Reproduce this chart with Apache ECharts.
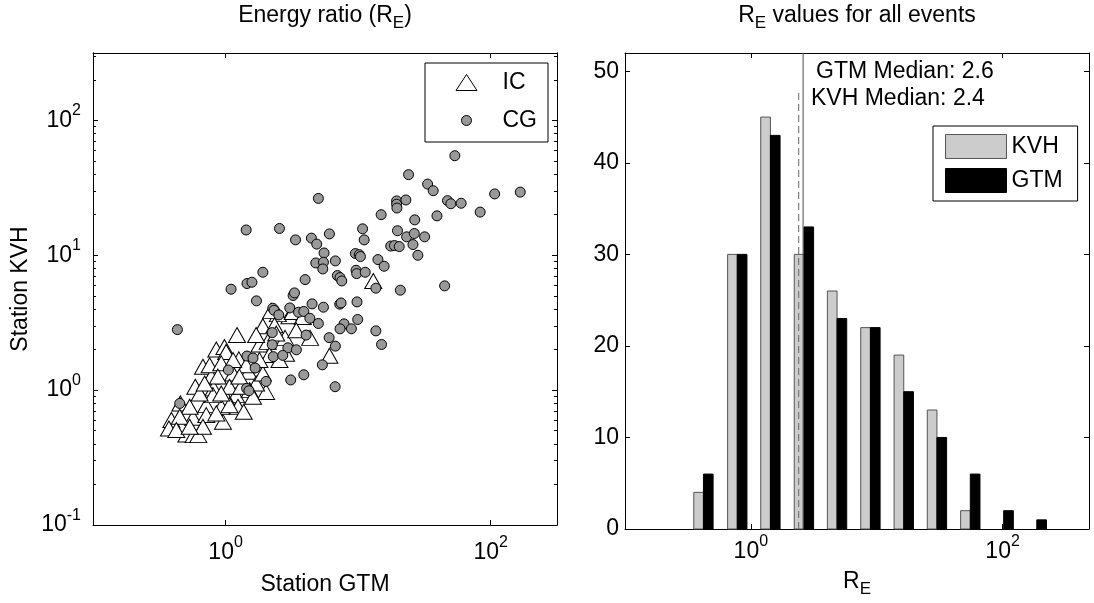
<!DOCTYPE html>
<html><head><meta charset="utf-8">
<script src="https://cdn.jsdelivr.net/npm/echarts@6/dist/echarts.min.js"></script>
<style>html,body{margin:0;padding:0;background:#fff}#c{width:1094px;height:603px}</style>
</head><body><div id="c"></div>
<script>
// ---- Data ----
// IC events: energy ratio at station GTM (x) and KVH (y)
const icGTM = [13.0,3.03,2.48,2.21,1.91,4.34,2.81,1.80,2.08,6.07,2.86,2.14,1.22,0.851,0.98,1.26,0.675,0.780,1.49,2.02,
  0.591,0.812,1.20,1.02,0.715,0.456,0.390,0.374,0.568,0.506,0.574,0.623,0.955,0.927,1.24,1.37,0.715,1.01,1.14,1.70,
  1.91,1.52,0.803,1.07,1.31,0.536,0.451,0.637,0.758,0.927,1.43,1.80,1.70,2.34,3.21,3.82,3.41,2.41,0.875,0.675,
  0.851,1.07,0.425,1.27,2.55,1.61,0.536,1.14,0.927,0.695];
const icKVH = [6.45,3.53,3.66,3.87,2.98,2.44,2.44,2.18,2.28,1.80,1.86,1.82,2.56,2.00,2.09,1.69,1.49,1.26,1.37,0.97,
  1.06,1.03,0.918,0.867,0.774,0.797,0.600,0.520,0.624,0.469,0.464,0.464,0.582,0.753,0.753,0.691,0.653,1.92,1.33,1.12,
  1.33,1.00,0.918,1.06,1.06,0.753,0.634,0.945,1.53,1.58,1.53,1.67,2.56,3.03,3.80,3.49,2.78,2.63,1.26,0.535,
  0.672,0.774,0.506,1.26,1.67,0.893,0.535,1.67,0.945,1.12];
// CG events
const cgGTM = [53.6,24.0,33.4,36.8,47.2,50.0,59.8,107,167,83.2,39.3,19.5,19.5,19.6,22.9,14.9,26.7,5.01,1.43,2.55,
  3.37,4.44,4.87,6.07,5.53,10.8,11.1,19.8,23.2,26.5,31.7,17.6,18.8,20.4,25.9,28.2,9.53,10.2,10.4,4.79,
  5.47,5.41,6.73,14.1,15.7,9.64,9.75,11.3,6.97,7.30,7.52,3.98,1.91,1.45,1.58,1.10,3.23,3.31,1.71,2.27,
  2.32,2.52,3.05,3.55,3.89,4.49,5.47,7.26,7.43,9.80,4.32,5.01,9.92,7.83,7.30,8.89,13.6,15.0,20.8,44.9,
  13.6,0.433,2.25,4.05,6.04,6.73,2.25,2.95,3.42,1.45,1.61,2.29,2.70,1.67,1.05,3.89,3.10,6.70,5.37,1.44,
  1.50,2.02,0.451];
const cgKVH = [54.7,39.6,33.7,30.1,25.4,24.1,24.3,28.5,29.4,20.9,19.6,25.3,23.9,22.4,25.7,20.0,18.3,26.4,15.4,15.8,
  13.0,13.4,12.1,14.4,10.4,15.7,13.0,15.2,13.7,14.5,13.7,11.7,11.8,11.6,12.0,10.0,10.3,10.1,9.78,8.77,
  8.88,7.92,9.08,9.29,8.29,7.74,7.31,7.48,7.07,6.83,6.45,6.60,7.48,6.17,6.31,5.60,5.03,5.26,4.59,4.05,
  3.91,3.61,4.07,3.78,3.83,4.36,4.12,4.34,4.43,4.51,3.41,3.12,3.34,3.10,2.85,2.85,2.75,2.18,5.51,5.93,
  5.70,2.81,2.67,2.56,2.45,2.12,2.17,2.06,1.99,1.79,1.73,1.77,1.81,1.46,1.41,1.30,1.19,1.06,1.54,1.03,
  0.99,1.16,0.797];
// Histogram of R_E values (log-spaced bins)
const binCenters = [0.42,0.78,1.43,2.64,4.84,8.91,16.4,30.1,55.4,102,187];
const countKVH = [4,30,45,30,26,22,19,13,2,0,0];
const countGTM = [6,30,43,33,23,22,15,10,6,2,1];
const medianGTM = 2.6;
const medianKVH = 2.4;
const medianKVHLineTop = 48;
// Axis ranges and tick labels
const leftXRange = [0.1, 316];
const leftYRange = [0.1, 316];
const rightXRange = [0.1, 486];
const rightYRange = [0, 52];
const leftXTicks = [1, 100];
const leftYTicks = [0.1, 1, 10, 100];
const rightXTicks = [1, 100];
const rightYTicks = [0, 10, 20, 30, 40, 50];

// ---- Chart ----
const L = Math.log10;
const FONT = '"Liberation Sans", Arial, Helvetica, sans-serif';
const FS = 23;
const supRich = {
  b: {fontSize: FS, lineHeight: FS, verticalAlign: 'bottom', fontFamily: FONT, color: '#000'},
  sup: {fontSize: 16, lineHeight: 16, padding: [0, 0, 13, 0], verticalAlign: 'bottom', fontFamily: FONT, color: '#000'}
};
const subRich = {
  b: {fontSize: FS, lineHeight: FS, verticalAlign: 'top', fontFamily: FONT, color: '#000'},
  sub: {fontSize: 17, lineHeight: 17, padding: [11, 0, 0, 0], verticalAlign: 'top', fontFamily: FONT, color: '#000'}
};
const powLabel = v => '{b|10}{sup|' + Math.round(v) + '}';

function minorTicks(range) {
  const out = [];
  for (let e = -2; e <= 3; e++) for (let k = 2; k <= 9; k++) {
    const v = k * Math.pow(10, e);
    if (v > range[0] && v < range[1]) out.push(L(v));
  }
  return out;
}
const black = {color: '#000', width: 1};
function axis(opt) {
  return Object.assign({
    type: 'value', axisLine: {show: true, onZero: false, lineStyle: black},
    splitLine: {show: false}, axisLabel: {show: false}, axisTick: {show: true, inside: true, length: 5, lineStyle: black}
  }, opt);
}

const scatterXY = (xs, ys) => xs.map((x, i) => [L(x), L(ys[i])]);
const logSpacing = (L(binCenters[binCenters.length - 1]) - L(binCenters[0])) / (binCenters.length - 1);
const barW = logSpacing * 0.29;

function barSeries(name, counts, side, fill, stroke) {
  return {
    type: 'custom', name: name, xAxisIndex: 2, yAxisIndex: 4, coordinateSystem: 'cartesian2d',
    itemStyle: {color: fill, borderColor: stroke, borderWidth: 1},
    data: binCenters.map((c, i) => [L(c), counts[i]]),
    renderItem: function (params, api) {
      const xc = api.value(0), v = api.value(1);
      if (!v) return null;
      const x0 = side < 0 ? xc - barW : xc, x1 = side < 0 ? xc : xc + barW;
      const p0 = api.coord([x0, v]), p1 = api.coord([x1, 0]);
      return {type: 'rect', shape: {x: p0[0], y: p0[1], width: p1[0] - p0[0], height: p1[1] - p0[1]},
        style: {fill: fill, stroke: stroke, lineWidth: 1}};
    }
  };
}

const titleText = (text, left, top, align, rich) => ({
  text: text, left: left, top: top, textAlign: align, padding: 0,
  textStyle: {fontSize: FS, fontWeight: 'normal', fontFamily: FONT, color: '#000', rich: rich || {}}
});

const option = {
  animation: false,
  backgroundColor: '#fff',
  textStyle: {fontFamily: FONT},
  title: [
    titleText('{b|Energy ratio (R}{sub|E}{b|)}', 325, 4, 'center', subRich),
    titleText('{b|R}{sub|E}{b| values for all events}', 857, 4, 'center', subRich),
    titleText('GTM Median: 2.6', 816, 60.5, 'left'),
    titleText('KVH Median: 2.4', 811, 87.5, 'left')
  ],
  grid: [
    {left: 93, top: 53, width: 464, height: 472},
    {left: 625, top: 53, width: 464, height: 478}
  ],
  xAxis: [
    axis({gridIndex: 0, position: 'bottom', min: L(leftXRange[0]), max: L(leftXRange[1]),
      axisTick: {show: true, inside: true, length: 5, lineStyle: black, customValues: leftXTicks.map(L)},
      axisLabel: {show: true, customValues: leftXTicks.map(L), formatter: powLabel, rich: supRich, margin: 16},
      name: 'Station GTM', nameLocation: 'middle', nameGap: 48,
      nameTextStyle: {fontSize: FS, fontFamily: FONT, color: '#000'}}),
    axis({gridIndex: 0, position: 'top', min: L(leftXRange[0]), max: L(leftXRange[1]),
      axisTick: {show: true, inside: true, length: 5, lineStyle: black, customValues: leftXTicks.map(L)}}),
    axis({gridIndex: 1, position: 'bottom', min: L(rightXRange[0]), max: L(rightXRange[1]),
      axisTick: {show: true, inside: true, length: 5, lineStyle: black, customValues: rightXTicks.map(L)},
      axisLabel: {show: true, customValues: rightXTicks.map(L), formatter: powLabel, rich: supRich, margin: 11},
      name: '{b|R}{sub|E}', nameLocation: 'middle', nameGap: 41,
      nameTextStyle: {fontSize: FS, fontFamily: FONT, color: '#000', rich: subRich}}),
    axis({gridIndex: 1, position: 'top', min: L(rightXRange[0]), max: L(rightXRange[1]),
      axisTick: {show: true, inside: true, length: 5, lineStyle: black, customValues: rightXTicks.map(L)}})
  ],
  yAxis: [
    axis({gridIndex: 0, position: 'left', min: L(leftYRange[0]), max: L(leftYRange[1]),
      axisTick: {show: true, inside: true, length: 5, lineStyle: black, customValues: leftYTicks.map(L)},
      axisLabel: {show: true, customValues: leftYTicks.map(L), formatter: powLabel, rich: supRich, margin: 12},
      name: 'Station KVH', nameLocation: 'middle', nameGap: 61,
      nameTextStyle: {fontSize: FS, fontFamily: FONT, color: '#000'}}),
    axis({gridIndex: 0, position: 'right', min: L(leftYRange[0]), max: L(leftYRange[1]),
      axisTick: {show: true, inside: true, length: 5, lineStyle: black, customValues: leftYTicks.map(L)}}),
    axis({gridIndex: 0, position: 'left', min: L(leftYRange[0]), max: L(leftYRange[1]),
      axisTick: {show: true, inside: true, length: 3, lineStyle: black, customValues: minorTicks(leftYRange)}}),
    axis({gridIndex: 0, position: 'right', min: L(leftYRange[0]), max: L(leftYRange[1]),
      axisTick: {show: true, inside: true, length: 3, lineStyle: black, customValues: minorTicks(leftYRange)}}),
    axis({gridIndex: 1, position: 'left', min: rightYRange[0], max: rightYRange[1],
      axisTick: {show: true, inside: true, length: 5, lineStyle: black, customValues: rightYTicks},
      axisLabel: {show: true, customValues: rightYTicks, margin: 6, fontSize: FS, fontFamily: FONT, color: '#000'}}),
    axis({gridIndex: 1, position: 'right', min: rightYRange[0], max: rightYRange[1],
      axisTick: {show: true, inside: true, length: 5, lineStyle: black, customValues: rightYTicks}})
  ],
  legend: [
    {orient: 'vertical', left: 425, top: 63, padding: [8, 11, 10, 10], itemWidth: 62, itemHeight: 16, itemGap: 15,
      borderColor: '#000', borderWidth: 1, backgroundColor: '#fff', selectedMode: false, symbolKeepAspect: true,
      textStyle: {fontSize: FS, lineHeight: 16, fontFamily: FONT, color: '#000'},
      data: [
        {name: 'IC', icon: 'path://M0,0M62,16M20.5,16L31,0L41.5,16Z', itemStyle: {color: '#fff', borderColor: '#000', borderWidth: 1}},
        {name: 'CG', icon: 'path://M0,0M62,16M36,8A5,5,0,1,1,26,8A5,5,0,1,1,36,8Z', itemStyle: {color: '#999', borderColor: '#000', borderWidth: 1}}
      ]},
    {orient: 'vertical', left: 933, top: 126, padding: [8, 15, 8, 12], itemWidth: 61, itemHeight: 24, itemGap: 9,
      borderColor: '#000', borderWidth: 1, backgroundColor: '#fff', selectedMode: false,
      textStyle: {fontSize: FS, lineHeight: 24, fontFamily: FONT, color: '#000'},
      data: [
        {name: 'KVH', icon: 'rect', itemStyle: {color: '#ccc', borderColor: '#555', borderWidth: 1}},
        {name: 'GTM', icon: 'rect', itemStyle: {color: '#000', borderColor: '#000', borderWidth: 1}}
      ]}
  ],
  series: [
    {type: 'scatter', name: 'IC', xAxisIndex: 0, yAxisIndex: 0, symbol: 'triangle', symbolSize: [17, 15],
      itemStyle: {color: '#fff', borderColor: '#000', borderWidth: 1, opacity: 1}, data: scatterXY(icGTM, icKVH)},
    {type: 'scatter', name: 'CG', xAxisIndex: 0, yAxisIndex: 0, symbol: 'circle', symbolSize: 10,
      itemStyle: {color: '#999', borderColor: '#000', borderWidth: 1, opacity: 1}, data: scatterXY(cgGTM, cgKVH)},
    barSeries('KVH', countKVH, -1, '#ccc', '#555'),
    barSeries('GTM', countGTM, 1, '#000', '#000'),
    {type: 'line', name: 'GTM median', xAxisIndex: 2, yAxisIndex: 4, symbol: 'none', z: 5,
      lineStyle: {color: '#4d4d4d', width: 1}, data: [[L(medianGTM), rightYRange[0]], [L(medianGTM), rightYRange[1]]]},
    {type: 'line', name: 'KVH median', xAxisIndex: 2, yAxisIndex: 4, symbol: 'none', z: 5,
      lineStyle: {color: '#666', width: 1, type: [7, 4]}, data: [[L(medianKVH), rightYRange[0]], [L(medianKVH), medianKVHLineTop]]}
  ]
};
const chart = echarts.init(document.getElementById('c'), null, {renderer: 'canvas'});
chart.setOption(option);
</script></body></html>
